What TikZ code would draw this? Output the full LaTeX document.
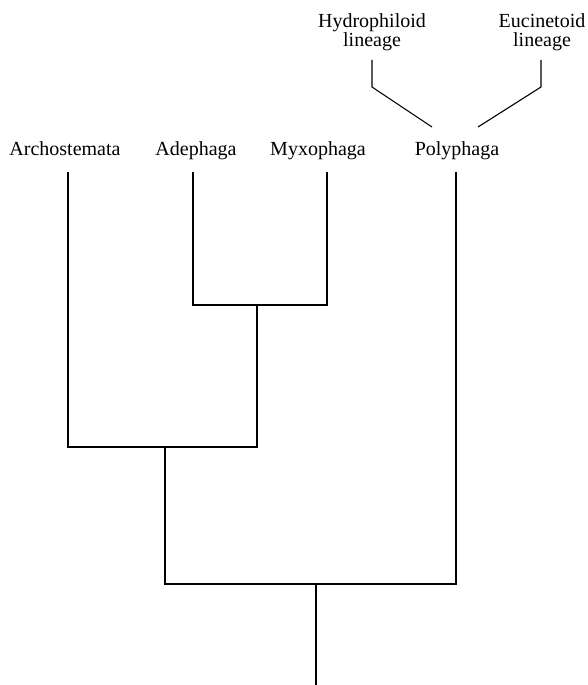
\documentclass[tikz,border=0pt]{standalone}
\usepackage{fontspec}
\setmainfont{Liberation Serif}
\usepackage{tikz}

\begin{document}
\begin{tikzpicture}[
  x=1pt, y=-1pt,
  font=\fontsize{20}{19}\selectfont,
  taxon/.style={anchor=base, inner sep=0pt},
  lineage/.style={anchor=base, inner sep=0pt, align=center},
  branch/.style={draw=black, line width=1.1pt},
]
  \useasboundingbox (0,0) rectangle (587,685);

  % taxa
  \node[taxon] (arch) at (65,155) {Archostemata};
  \node[taxon] (adep) at (196,155) {Adephaga};
  \node[taxon] (myxo) at (318,155) {Myxophaga};
  \node[taxon] (poly) at (457,155) {Polyphaga};
  \node[lineage] (hydro) at (372,47) {Hydrophiloid\\lineage};
  \node[lineage] (euci) at (542,47) {Eucinetoid\\lineage};

  % branch tips and junctions
  \coordinate (arch tip) at (68,172);
  \coordinate (adep tip) at (193,172);
  \coordinate (myxo tip) at (327,172);
  \coordinate (poly tip) at (456,172);
  \coordinate (am) at (257,305);
  \coordinate (aam) at (165,447);
  \coordinate (root) at (316,584);
  \coordinate (base) at (316,685);

  \draw[branch] (adep tip) |- (am) -| (myxo tip);
  \draw[branch] (arch tip) |- (aam) -| (am);
  \draw[branch] (aam) |- (root) -| (poly tip);
  \draw[branch] (root) -- (base);

  % polyphagan lineages
  \coordinate (hydro tip) at (372,60);
  \coordinate (euci tip) at (541,60);
  \draw[branch] (hydro tip) -- ++(0,27) -- (432,127);
  \draw[branch] (euci tip) -- ++(0,27) -- (478,127);
\end{tikzpicture}
\end{document}
